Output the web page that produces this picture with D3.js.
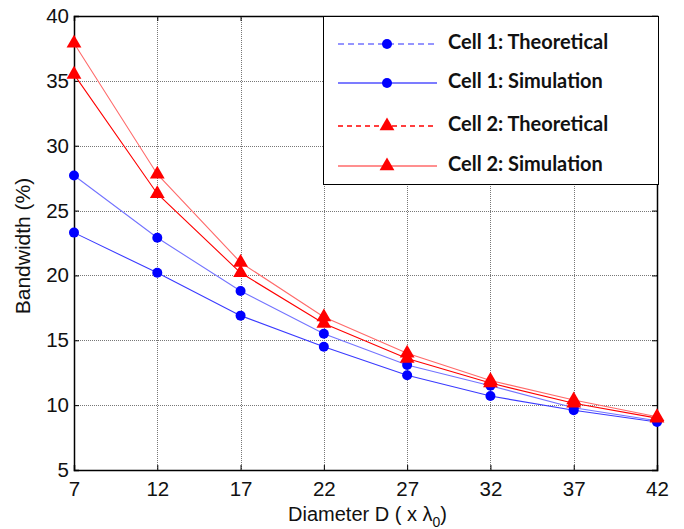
<!DOCTYPE html>
<html lang="en">
<head>
  <meta charset="UTF-8">
  <title>Bandwidth vs Diameter</title>
  <script src="https://cdnjs.cloudflare.com/ajax/libs/d3/7.8.5/d3.min.js"></script>
  <style>
    body { margin: 0; background: #fff; }
    svg { display: block; }
  </style>
</head>
<body>
<div id="chart"></div>
<script>
  // Data
  const diameters = [7, 12, 17, 22, 27, 32, 37, 42];
  const cell1Theory = [27.7, 22.9, 18.8, 15.5, 13.1, 11.5, 9.8, 8.8];
  const cell1Sim = [23.3, 20.2, 16.9, 14.5, 12.3, 10.7, 9.6, 8.7];
  const cell2Theory = [35.5, 26.3, 20.2, 16.3, 13.6, 11.7, 10.15, 9.0];
  const cell2Sim = [37.9, 27.8, 21.0, 16.8, 14.0, 11.9, 10.4, 9.1];
  const yTicks = [5, 10, 15, 20, 25, 30, 35, 40];

  const series = [
    { name: "Cell 1: Theoretical", values: cell1Theory, color: "#0000ff", marker: "circle", dash: "6,4", lineColor: "#7373ff", legendLine: "#7373ff" },
    { name: "Cell 1: Simulation", values: cell1Sim, color: "#0000ff", marker: "circle", dash: null, lineColor: "#3a3aff", legendLine: "#5050ff" },
    { name: "Cell 2: Theoretical", values: cell2Theory, color: "#ff0000", marker: "triangle", dash: "5,4", lineColor: "#ff0000", legendLine: "#ff0000" },
    { name: "Cell 2: Simulation", values: cell2Sim, color: "#ff0000", marker: "triangle", dash: null, lineColor: "#ff6a6a", legendLine: "#ff6a6a" }
  ];

  const width = 684, height = 529;
  const margin = { top: 16, right: 27, bottom: 59, left: 74 };

  const svg = d3.select("#chart").append("svg")
      .attr("width", width)
      .attr("height", height);

  const x = d3.scaleLinear([7, 42], [margin.left, width - margin.right]);
  const y = d3.scaleLinear([5, 40], [height - margin.bottom, margin.top]);

  const font = "'Liberation Sans', Arial, sans-serif";

  // grid
  const grid = svg.append("g").attr("stroke", "#777").attr("stroke-dasharray", "1,1").attr("stroke-width", 1);
  grid.selectAll("line.v").data(diameters.slice(1, -1)).join("line")
      .attr("x1", d => Math.round(x(d)) + 0.5).attr("x2", d => Math.round(x(d)) + 0.5)
      .attr("y1", y(40)).attr("y2", y(5));
  grid.selectAll("line.h").data(yTicks.slice(1, -1)).join("line")
      .attr("y1", d => Math.round(y(d)) + 0.5).attr("y2", d => Math.round(y(d)) + 0.5)
      .attr("x1", x(7)).attr("x2", x(42));

  // axes with inward ticks on all sides
  const xAxis = d3.axisBottom(x).tickValues(diameters).tickSize(-5).tickPadding(11);
  const yAxis = d3.axisLeft(y).tickValues(yTicks).tickSize(-5).tickPadding(5);

  svg.append("g").attr("transform", `translate(0,${y(5)})`).call(xAxis);
  svg.append("g").attr("transform", `translate(${x(7)},0)`).call(yAxis);
  svg.append("g").attr("transform", `translate(0,${y(40)})`)
      .call(d3.axisTop(x).tickValues(diameters).tickSize(-5).tickFormat(""));
  svg.append("g").attr("transform", `translate(${x(42)},0)`)
      .call(d3.axisRight(y).tickValues(yTicks).tickSize(-5).tickFormat(""));

  svg.selectAll(".domain").attr("stroke", "#000").attr("stroke-width", 1.5);
  svg.selectAll(".tick line").attr("stroke", "#000");
  svg.selectAll(".tick text").attr("font-family", font).attr("font-size", 20.5).attr("fill", "#111");

  // lines
  const line = d3.line().x((d, i) => x(diameters[i])).y(d => y(d));
  const tri = d3.symbol(d3.symbolTriangle, 95);

  series.forEach(s => {
    svg.append("path")
        .datum(s.values)
        .attr("fill", "none")
        .attr("stroke", s.lineColor)
        .attr("stroke-width", 1.1)
        .attr("d", line);
  });

  series.forEach(s => {
    const g = svg.append("g").attr("fill", s.color);
    if (s.marker === "circle") {
      g.selectAll("circle").data(s.values).join("circle")
          .attr("cx", (d, i) => x(diameters[i])).attr("cy", d => y(d)).attr("r", 5);
    } else {
      g.selectAll("path").data(s.values).join("path")
          .attr("transform", (d, i) => `translate(${x(diameters[i])},${y(d)})`)
          .attr("d", tri);
    }
  });

  // axis labels
  svg.append("text")
      .attr("transform", `translate(30,${(y(5) + y(40)) / 2 + 3}) rotate(-90)`)
      .attr("text-anchor", "middle")
      .attr("font-family", font).attr("font-size", 21).attr("fill", "#111")
      .text("Bandwidth (%)");

  const xl = svg.append("text")
      .attr("x", (x(7) + x(42)) / 2 + 2)
      .attr("y", 521)
      .attr("text-anchor", "middle")
      .attr("font-family", font).attr("font-size", 20).attr("fill", "#111");
  xl.append("tspan").text("Diameter D ( x \u03bb");
  xl.append("tspan").attr("font-size", 14).attr("dy", 6).text("0");
  xl.append("tspan").attr("dy", -6).text(")");

  // legend
  const lg = svg.append("g");
  lg.append("rect")
      .attr("x", 323.5).attr("y", 16.5).attr("width", 335).attr("height", 168)
      .attr("fill", "#fff").attr("stroke", "#000").attr("stroke-width", 1);
  const rowsY = [44, 83, 126, 166];
  series.forEach((s, i) => {
    const ly = rowsY[i];
    lg.append("line")
        .attr("x1", 338).attr("x2", 437).attr("y1", ly).attr("y2", ly)
        .attr("stroke", s.legendLine)
        .attr("stroke-width", 1.3)
        .attr("stroke-dasharray", s.dash);
    if (s.marker === "circle") {
      lg.append("circle").attr("cx", 387).attr("cy", ly).attr("r", 5).attr("fill", s.color);
    } else {
      lg.append("path").attr("transform", `translate(387,${ly})`).attr("d", tri).attr("fill", s.color);
    }
    lg.append("text")
        .attr("x", 448).attr("y", ly + 5)
        .attr("font-family", "Lato, 'Open Sans', sans-serif")
        .attr("font-weight", "bold").attr("font-size", 20).attr("fill", "#111")
        .text(s.name);
  });
</script>
</body>
</html>
